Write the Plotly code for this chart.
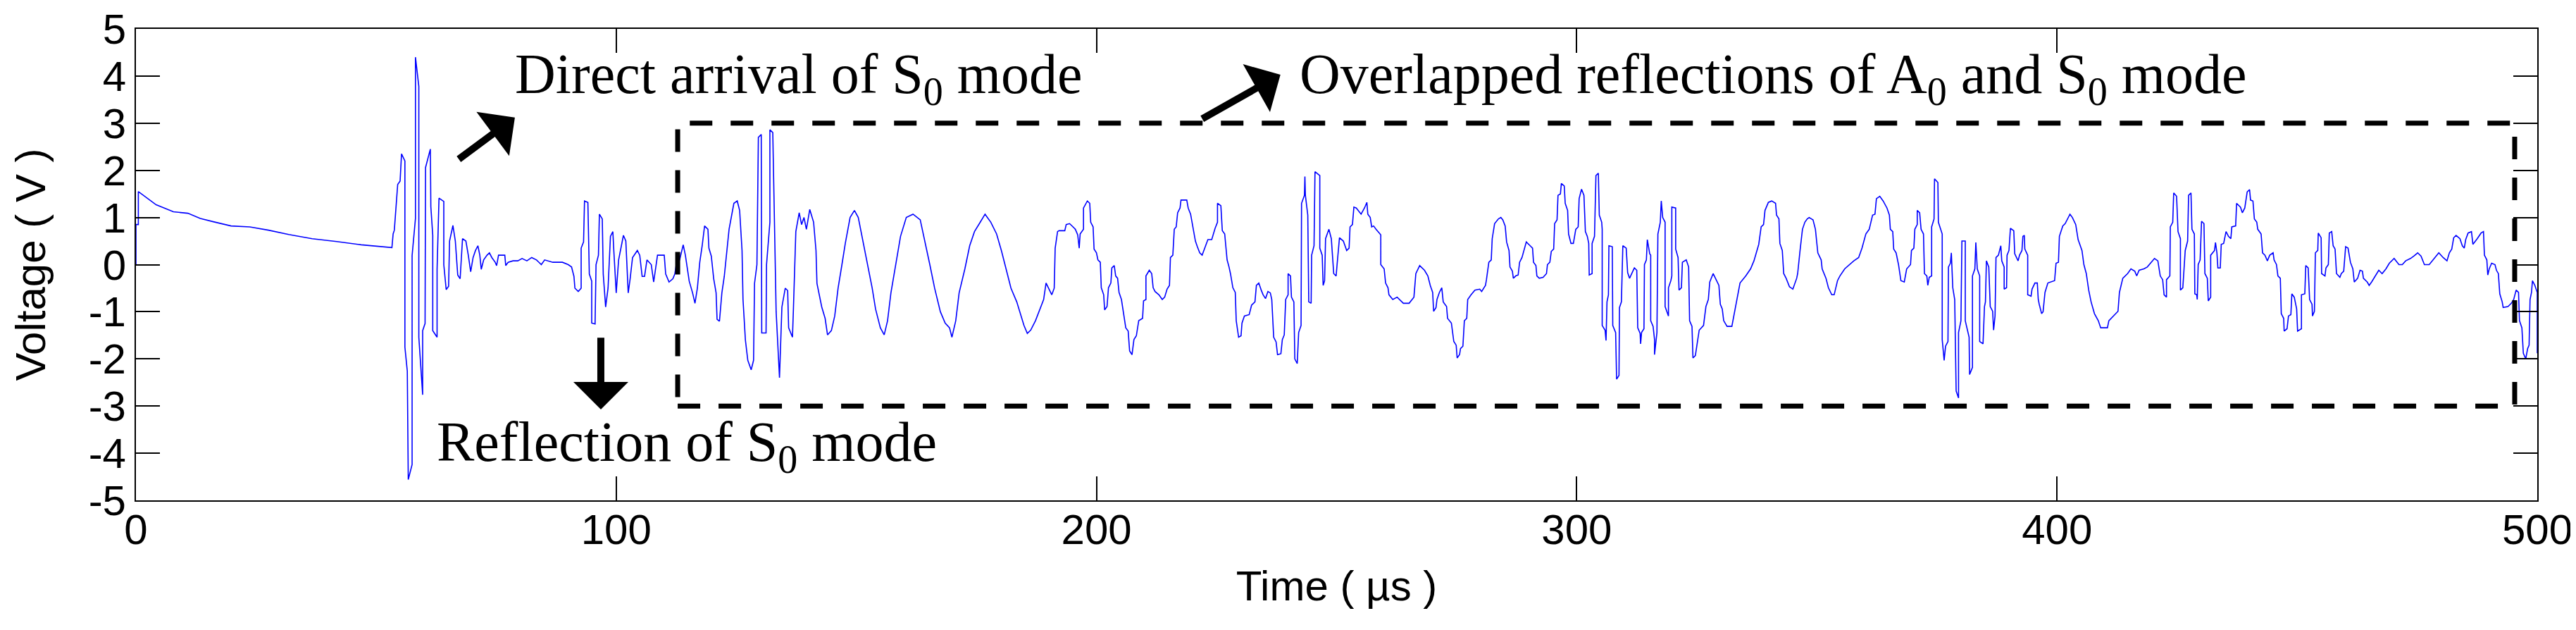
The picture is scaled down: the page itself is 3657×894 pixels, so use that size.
import plotly.graph_objects as go

# ---------------- data (time in microseconds, voltage in volts) ----------------
# 0-53 us : initial offset decaying
t_decay = [0, 0, 0.5, 0.5, 4.2, 7.8, 10.8, 13.4, 16.1, 19.8, 23.7, 27.6, 31.8, 36.7, 41.8, 46.9, 53.3]
v_decay = [0.0, 0.85, 0.85, 1.55, 1.27, 1.12, 1.09, 0.98, 0.91, 0.82, 0.80, 0.73, 0.64, 0.55, 0.49, 0.42, 0.36]

# 53-69 us : direct arrival of S0 mode
t_direct = [53.55, 53.8, 54.5, 55.0, 55.3, 56.0, 56.0, 56.5, 56.7, 57.5, 57.5, 58.2, 58.2, 58.9, 58.9, 59.7,
            59.7, 60.2, 60.3, 61.3, 61.4, 61.8, 61.8, 62.7, 62.7, 63.1, 64.1, 64.1, 64.6, 65.1, 65.3, 66.0,
            66.5, 67.0, 67.5, 68.0]
v_direct = [0.65, 0.73, 1.7, 1.77, 2.35, 2.2, -1.75, -2.26, -4.56, -4.24, 0.19, 0.98, 4.4, 3.78, -1.54, -2.76,
            -1.4, -1.25, 2.06, 2.45, 1.23, 0.62, -1.4, -1.54, -0.1, 1.41, 1.34, 0.0, -0.53, -0.46, 0.5, 0.83,
            0.5, -0.22, -0.3, 0.55]

# 68-93 us : tail of the direct arrival
t_tail = [68.7, 69.2, 69.7, 70.2, 70.7, 71.2, 71.6, 71.9, 72.4, 73.1, 73.6, 74.1, 74.8, 75.1, 75.5, 76.8,
          77.0, 77.5, 78.5, 79.5, 80.4, 81.4, 82.4, 83.4, 84.4, 85.1, 85.8, 86.8, 88.8, 90.0, 90.7, 91.2,
          91.4, 92.1, 92.7]
v_tail = [0.5, 0.2, -0.15, 0.15, 0.3, 0.4, 0.2, -0.1, 0.1, 0.2, 0.25, 0.15, 0.05, -0.02, 0.2, 0.2,
          -0.02, 0.05, 0.08, 0.08, 0.13, 0.08, 0.15, 0.1, 0.0, 0.1, 0.08, 0.05, 0.05, 0.0, -0.05, -0.25,
          -0.5, -0.57, -0.5]

# 93-129 us : reflection of S0 mode
t_reflect = [92.7, 93.2, 93.4, 94.1, 94.4, 94.9, 94.9, 95.6, 95.8, 96.3, 96.5, 97.1, 97.3, 97.8, 98.3, 98.8,
             99.3, 99.5, 100.0, 100.5, 101.5, 102.0, 102.5, 102.9, 103.4, 104.4, 104.9, 105.4, 105.9, 106.4,
             107.3, 107.8, 108.6, 110.0, 110.3, 111.0, 111.8, 112.2, 112.5, 113.2, 113.95, 114.4, 115.2,
             115.9, 116.4, 116.9, 117.4, 117.9, 118.4, 119.1, 119.3, 119.8, 120.3, 120.8, 121.0, 121.5,
             122.0, 122.5, 123.0, 123.5, 124.5, 125.2, 125.7, 126.2, 126.4, 126.9, 127.4, 128.1, 128.6,
             128.8, 129.3]
v_reflect = [0.35, 0.48, 1.35, 1.32, -0.2, -0.35, -1.24, -1.26, 0.0, 0.2, 1.07, 0.97, -0.2, -0.9, -0.5, 0.6,
             0.7, 0.3, -0.6, 0.1, 0.62, 0.5, -0.6, -0.3, 0.15, 0.3, 0.2, -0.25, -0.25, 0.1,
             0.0, -0.37, 0.2, 0.2, -0.2, -0.37, -0.3, -0.2, 0.0, 0.1, 0.42, 0.2, -0.35,
             -0.6, -0.82, -0.5, 0.05, 0.4, 0.82, 0.75, 0.35, 0.18, -0.3, -0.6, -1.16, -1.2,
             -0.6, -0.25, 0.22, 0.75, 1.3, 1.35, 1.15, 0.3, -0.74, -1.6, -2.03, -2.23, -2.03,
             -0.4, 0.0]

# 129-192 us : overlapped reflections, part 1
t_over1 = [129.6, 130.2, 130.3, 131.2, 131.3, 132.0, 132.0, 132.6, 133.3, 134.0, 134.5, 135.2, 135.7, 135.9,
           136.7, 136.9, 137.4, 138.1, 138.6, 139.1, 139.6, 140.3, 141.1, 141.6, 141.8, 142.8, 143.5, 144.0,
           144.8, 145.5, 146.2, 147.0, 147.7, 148.7, 149.6, 150.4, 151.3, 152.3, 153.3, 154.0, 155.0, 155.8,
           156.5, 157.2, 158.2, 159.2, 160.4, 161.8, 163.3, 164.3, 165.3, 166.3, 167.5, 168.5, 169.4, 169.9,
           170.7, 171.4, 172.6, 173.6, 174.6, 175.8, 176.8, 178.0, 179.2, 180.2, 181.2, 182.2, 183.4, 184.1,
           184.9, 185.6, 186.3, 187.3, 188.3, 189.0, 189.5, 190.0, 190.7, 191.2, 191.4, 191.9]
v_over1 = [2.7, 2.76, -1.45, -1.45, 0.0, 0.9, 2.86, 2.8, -1.0, -2.4, -0.9, -0.5, -0.55, -1.34,
           -1.54, -0.94, 0.7, 1.1, 0.85, 1.0, 0.75, 1.17, 0.9, 0.3, -0.4, -0.9, -1.14, -1.49,
           -1.4, -1.09, -0.5, 0.0, 0.45, 1.0, 1.15, 1.0, 0.55, 0.05, -0.5, -0.94, -1.34, -1.49,
           -1.19, -0.6, 0.0, 0.6, 1.0, 1.07, 0.95, 0.5, 0.0, -0.5, -1.0, -1.24, -1.34, -1.54,
           -1.19, -0.6, -0.09, 0.4, 0.7, 0.9, 1.07, 0.9, 0.65, 0.3, -0.09, -0.5, -0.79, -1.04,
           -1.29, -1.46, -1.39, -1.19, -0.94, -0.74, -0.39, -0.5, -0.64, -0.5, 0.35, 0.7]

# 192-254 us : overlapped reflections, part 2
t_over2 = [192.2, 193.4, 193.7, 194.4, 195.6, 196.1, 196.4, 196.6, 197.3, 197.3, 198.1, 198.6, 198.8, 199.3,
           199.5, 200.0, 200.3, 200.8, 201.0, 201.5, 201.7, 202.2, 202.5, 203.0, 203.2, 203.7, 204.0, 204.4,
           204.7, 205.2, 205.6, 206.1, 206.6, 206.9, 207.4, 207.8, 208.3, 208.8, 209.6, 209.8, 210.3, 210.3,
           211.0, 211.5, 211.8, 212.2, 213.0, 213.7, 214.2, 214.7, 215.2, 215.4, 215.9, 216.2, 216.6, 216.9,
           217.4, 217.6, 218.8, 219.1, 219.6, 220.1, 220.6, 221.0, 221.5, 222.0, 222.5, 223.2, 224.0, 224.7,
           225.2, 225.2, 225.9, 226.2, 226.7, 227.2, 227.6, 227.9, 228.4, 228.9, 229.1, 229.6, 230.1, 230.3,
           230.8, 231.8, 232.3, 233.0, 233.3, 233.8, 234.3, 234.7, 235.2, 235.7, 236.2, 236.5, 236.9, 237.4,
           237.7, 238.4, 238.7, 239.1, 239.4, 239.9, 239.9, 240.4, 240.6, 241.1, 241.3, 241.8, 242.1, 242.6,
           242.7, 243.3, 243.4, 243.5, 244.0, 244.2, 244.7, 244.8, 245.3, 245.5, 246.5, 246.5, 247.0, 247.2,
           247.5, 247.7, 248.4, 248.9, 249.4, 249.9, 250.1, 250.6, 251.4, 252.1, 252.6, 252.8, 253.3, 253.6]
v_over2 = [0.72, 0.72, 0.85, 0.87, 0.75, 0.63, 0.35, 0.65, 0.75, 1.2, 1.35, 1.3, 0.9, 0.8,
           0.33, 0.25, 0.1, 0.05, -0.49, -0.64, -0.96, -0.89, -0.49, -0.39, -0.07, -0.02, -0.24, -0.29,
           -0.59, -0.74, -1.04, -1.34, -1.41, -1.83, -1.91, -1.59, -1.51, -1.19, -1.14, -0.77, -0.74, -0.24,
           -0.12, -0.19, -0.49, -0.57, -0.64, -0.74, -0.69, -0.52, -0.44, 0.15, 0.2, 0.75, 0.8, 1.1,
           1.2, 1.37, 1.37, 1.2, 1.07, 0.77, 0.5, 0.38, 0.25, 0.2, 0.35, 0.53, 0.53, 0.77,
           0.9, 1.3, 1.25, 0.72, 0.65, 0.1, -0.05, -0.19, -0.49, -0.59, -1.19, -1.54, -1.51, -1.24,
           -1.09, -1.06, -0.86, -0.79, -0.44, -0.39, -0.54, -0.64, -0.72, -0.57, -0.6, -0.74, -1.54, -1.64,
           -1.91, -1.89, -1.59, -1.49, -0.74, -0.64, -0.19, -0.24, -0.69, -0.79, -2.0, -2.1, -1.44, -1.29,
           1.3, 1.47, 1.87, 1.47, 1.05, -0.79, -0.82, 0.2, 0.4, 1.97, 1.89, 0.35, 0.2, -0.44,
           -0.34, 0.55, 0.75, 0.55, -0.19, -0.24, 0.0, 0.57, 0.5, 0.3, 0.35, 0.8, 0.85, 1.22]

# 254-315 us : overlapped reflections, part 3
t_over3 = [254.1, 255.1, 255.8, 256.3, 256.5, 257.0, 257.3, 257.7, 258.2, 259.2, 259.2, 259.9, 260.2, 260.7,
           260.9, 261.7, 262.6, 263.1, 263.9, 265.1, 266.1, 266.5, 267.3, 268.3, 269.0, 269.5, 270.0, 270.2,
           270.7, 270.9, 271.4, 271.9, 272.2, 272.9, 273.1, 273.9, 274.4, 274.9, 275.1, 275.6, 275.8, 276.3,
           276.6, 277.1, 277.3, 278.0, 278.8, 279.8, 280.2, 281.0, 281.2, 281.7, 282.2, 282.4, 282.9, 283.7,
           284.2, 284.6, 285.1, 285.4, 285.9, 286.1, 286.6, 286.8, 287.3, 287.8, 288.1, 288.6, 289.0, 289.5,
           290.3, 290.8, 291.0, 291.5, 291.7, 292.2, 293.0, 293.7, 293.9, 294.4, 294.7, 295.2, 295.4, 295.9,
           296.1, 296.6, 296.8, 297.4, 297.6, 298.1, 298.3, 298.8, 299.3, 299.8, 300.3, 300.5, 301.0, 301.5,
           301.8, 302.2, 302.5, 302.6, 303.2, 303.2, 303.7, 304.0, 304.5, 304.7, 305.2, 305.3, 305.3, 305.9,
           306.1, 306.3, 306.6, 306.7, 307.4, 307.5, 308.1, 308.3, 308.8, 308.9, 309.3, 309.6, 310.3, 310.6,
           311.0, 311.5, 312.0, 312.5, 312.7, 313.2, 313.3, 313.5, 314.0, 314.1, 314.5, 314.7, 315.2]
v_over3 = [1.2, 1.07, 1.2, 1.32, 1.07, 1.0, 0.8, 0.82, 0.75, 0.63, 0.0, -0.09, -0.39, -0.49,
           -0.64, -0.74, -0.69, -0.74, -0.82, -0.82, -0.69, -0.19, -0.02, -0.12, -0.24, -0.44, -0.59, -0.99,
           -0.91, -0.74, -0.59, -0.49, -0.79, -0.89, -1.14, -1.24, -1.63, -1.71, -1.98, -1.91, -1.78, -1.73,
           -1.19, -1.14, -0.74, -0.64, -0.54, -0.52, -0.57, -0.44, -0.32, 0.05, 0.1, 0.55, 0.87, 0.97,
           1.0, 0.95, 0.82, 0.48, 0.3, -0.05, -0.14, -0.29, -0.24, -0.22, 0.05, 0.15, 0.3, 0.48,
           0.4, 0.35, 0.05, -0.02, -0.24, -0.29, -0.27, -0.19, 0.0, 0.05, 0.28, 0.33, 0.87, 0.95,
           1.47, 1.5, 1.72, 1.67, 1.3, 1.15, 0.65, 0.45, 0.45, 0.75, 0.8, 1.4, 1.6, 1.47,
           0.7, 0.6, 0.45, -0.22, -0.19, 0.45, 0.6, 1.89, 1.94, 1.05, 0.9, 0.75, -1.29, -1.39,
           -1.61, -0.79, -0.64, 0.4, 0.38, -1.29, -1.44, -2.43, -2.35, -0.91, -0.79, 0.4, 0.35, -0.17,
           -0.29, -0.19, -0.07, -0.12, -1.34, -1.46, -1.68, -1.44, -1.36, 0.0, 0.1, 0.53, 0.23]

# 315-377 us : overlapped reflections, part 4
t_over4 = [315.4, 315.4, 315.9, 316.2, 316.2, 316.7, 316.9, 317.4, 317.6, 317.9, 318.4, 318.4, 319.1, 319.1,
           319.6, 319.8, 319.8, 320.6, 320.6, 321.1, 321.3, 321.8, 322.0, 322.8, 323.3, 323.5, 324.0, 324.2,
           324.7, 325.0, 325.5, 326.4, 326.9, 327.4, 327.7, 328.4, 329.1, 329.6, 329.9, 330.3, 330.6, 331.3,
           332.3, 332.8, 333.3, 334.0, 335.2, 336.2, 336.9, 337.4, 337.9, 338.4, 338.9, 339.2, 339.9, 340.6,
           341.4, 341.6, 342.1, 342.3, 342.8, 343.1, 343.6, 344.3, 345.0, 345.8, 346.0, 346.5, 347.0, 347.5,
           348.0, 348.4, 349.2, 349.7, 350.2, 350.9, 351.1, 351.9, 352.4, 353.1, 353.6, 354.3, 354.8, 355.8,
           356.8, 357.7, 358.7, 359.4, 360.2, 360.9, 361.6, 362.1, 362.4, 363.1, 363.8, 364.6, 365.1, 365.3,
           365.8, 366.0, 366.5, 367.0, 367.5, 368.2, 368.7, 369.5, 369.7, 370.2, 370.4, 370.9, 370.9, 371.4,
           371.7, 372.2, 372.4, 372.9, 373.1, 373.4, 373.9, 373.9, 374.4, 374.5, 375.2, 375.3, 376.1, 376.1,
           376.5, 376.8, 377.3]
v_over4 = [0.2, -1.19, -1.31, -1.59, -1.91, -1.44, 0.65, 0.9, 1.35, 1.0, 0.9, -0.89, -1.09, -0.49,
           -0.34, -0.24, 1.22, 1.2, 0.33, 0.15, -0.54, -0.49, 0.05, 0.1, -0.05, -1.19, -1.31, -1.98,
           -1.93, -1.73, -1.39, -1.29, -0.89, -0.74, -0.37, -0.19, -0.34, -0.44, -0.84, -0.94, -1.19, -1.31,
           -1.31, -1.04, -0.74, -0.39, -0.24, -0.09, 0.08, 0.25, 0.43, 0.8, 0.85, 1.15, 1.32, 1.35,
           1.3, 1.05, 0.97, 0.45, 0.3, -0.19, -0.29, -0.47, -0.52, -0.29, -0.19, 0.3, 0.75, 0.9,
           0.97, 1.0, 0.95, 0.75, 0.25, 0.1, -0.09, -0.29, -0.49, -0.64, -0.64, -0.34, -0.24, -0.09,
           0.0, 0.08, 0.15, 0.35, 0.65, 0.75, 1.05, 1.07, 1.4, 1.45, 1.35, 1.2, 1.05, 0.75,
           0.7, 0.33, 0.25, 0.0, -0.34, -0.37, -0.09, 0.0, 0.3, 0.35, 0.75, 0.85, 1.15, 1.1,
           0.75, 0.65, -0.19, -0.24, -0.44, -0.27, -0.24, 0.8, 0.97, 1.82, 1.74, 0.9, 0.65, -1.59,
           -2.03, -1.73, -1.63]

# 377-439 us : overlapped reflections, part 5
t_over5 = [377.4, 377.8, 378.0, 378.3, 378.7, 379.0, 379.5, 379.5, 380.0, 380.2, 380.9, 380.9, 381.4, 381.7,
           381.8, 382.4, 382.4, 382.9, 383.1, 383.4, 383.9, 383.9, 384.6, 384.9, 385.1, 385.3, 385.8, 386.1,
           386.6, 386.8, 387.1, 387.3, 387.8, 388.3, 388.5, 389.0, 389.0, 389.5, 389.6, 390.0, 390.3, 391.0,
           391.2, 391.9, 392.2, 392.7, 392.9, 393.2, 393.3, 393.9, 393.9, 394.6, 394.8, 395.4, 395.9, 396.1,
           396.3, 396.8, 397.1, 397.5, 398.1, 398.8, 399.5, 399.8, 400.3, 400.5, 401.2, 401.7, 402.2, 402.7,
           403.2, 403.9, 404.4, 405.2, 405.6, 406.1, 406.6, 407.1, 407.8, 408.6, 409.1, 410.5, 410.8, 411.8,
           412.7, 413.0, 413.7, 414.7, 415.4, 416.2, 416.6, 417.1, 418.1, 418.8, 419.6, 420.3, 421.0, 421.5,
           422.0, 422.3, 422.8, 422.8, 423.5, 423.6, 424.1, 424.3, 424.9, 425.2, 425.7, 425.7, 426.2, 426.7,
           427.2, 427.4, 427.9, 428.1, 428.6, 428.7, 429.1, 429.2, 429.4, 429.8, 430.1, 430.6, 430.8, 431.3,
           431.5, 432.0, 432.0, 432.8, 433.0, 433.3, 433.5, 434.0, 434.2, 434.7, 435.2, 435.7, 436.2, 436.4,
           437.2, 437.4, 438.2, 438.6, 439.1]
v_over5 = [-0.05, 0.03, 0.25, -0.49, -0.74, -2.68, -2.83, -1.44, -1.19, 0.5, 0.5, -1.19, -1.39, -1.54,
           -2.33, -2.18, -0.24, -0.09, 0.47, -0.09, -0.24, -1.63, -1.68, -0.89, -0.79, 0.08, -0.05, -0.89,
           -0.99, -1.39, -1.09, 0.15, 0.2, 0.4, 0.08, -0.05, -0.52, -0.49, 0.2, 0.3, 0.77, 0.72,
           0.23, 0.08, 0.2, 0.3, 0.6, 0.62, 0.33, 0.2, -0.64, -0.67, -0.52, -0.39, -0.39, -0.74,
           -0.84, -1.04, -1.0, -0.59, -0.39, -0.37, -0.34, 0.03, 0.05, 0.6, 0.82, 0.87, 0.97, 1.07,
           1.0, 0.85, 0.53, 0.3, 0.0, -0.19, -0.54, -0.79, -1.04, -1.19, -1.34, -1.34, -1.19, -1.09,
           -0.99, -0.59, -0.29, -0.19, -0.09, -0.14, -0.24, -0.12, -0.09, -0.05, 0.05, 0.13, 0.08, -0.24,
           -0.32, -0.64, -0.69, -0.32, -0.24, 0.8, 0.9, 1.52, 1.45, 0.7, 0.55, -0.54, -0.49, 0.3,
           0.5, 1.47, 1.52, 0.75, 0.65, -0.62, -0.64, -0.74, 0.0, 0.1, 0.92, 0.87, -0.19, -0.29,
           -0.77, -0.69, 0.2, 0.3, 0.47, 0.25, -0.07, -0.07, 0.43, 0.45, 0.7, 0.6, 0.55, 0.8,
           0.82, 1.3, 1.22, 1.1, 1.2]

# 439-500 us : overlapped reflections, part 6
t_over6 = [439.6, 440.1, 440.3, 440.8, 441.1, 441.6, 441.8, 442.5, 442.8, 443.3, 443.8, 444.3, 445.0, 445.2,
           445.7, 446.0, 446.5, 446.7, 447.2, 447.3, 447.9, 448.2, 448.7, 448.9, 449.4, 449.9, 450.1, 450.9,
           450.9, 451.6, 451.8, 452.3, 452.6, 453.1, 453.2, 453.6, 453.8, 454.3, 454.4, 455.0, 455.1, 455.8,
           456.0, 456.5, 456.7, 457.2, 457.5, 457.9, 458.2, 458.9, 459.2, 459.7, 460.1, 460.6, 461.1, 461.6,
           461.9, 462.6, 463.1, 463.6, 463.8, 464.6, 465.0, 465.5, 466.3, 467.0, 467.7, 468.5, 469.2, 470.2,
           471.2, 471.9, 472.6, 473.6, 474.3, 475.1, 475.8, 476.5, 477.5, 478.5, 479.5, 480.4, 481.2, 481.7,
           482.2, 482.6, 483.1, 483.9, 484.4, 484.8, 485.1, 485.6, 486.3, 486.6, 487.0, 487.5, 488.3, 488.8,
           489.0, 489.5, 489.7, 490.0, 490.5, 491.2, 491.5, 491.9, 492.2, 492.7, 492.9, 493.9, 494.6, 495.1,
           495.6, 496.1, 496.3, 496.8, 497.1, 497.6, 498.0, 498.3, 498.5, 498.8, 499.0, 499.5, 500.0, 500.0]
v_over6 = [1.54, 1.59, 1.37, 1.35, 0.97, 0.9, 0.75, 0.65, 0.25, 0.2, 0.08, 0.2, 0.25, 0.1,
           0.0, -0.24, -0.29, -1.04, -1.14, -1.41, -1.36, -1.09, -1.06, -0.62, -0.69, -0.94, -1.41, -1.36,
           -0.64, -0.62, -0.02, -0.07, -0.74, -0.84, -1.09, -0.99, 0.25, 0.3, 0.67, 0.57, -0.19, -0.24,
           -0.07, 0.0, 0.67, 0.7, 0.4, 0.33, -0.19, -0.27, -0.19, -0.14, 0.38, 0.35, 0.05, -0.09,
           -0.37, -0.29, -0.12, -0.14, -0.29, -0.37, -0.44, -0.37, -0.24, -0.12, -0.19, -0.09, 0.03, 0.13,
           0.0, 0.0, 0.08, 0.13, 0.18, 0.25, 0.18, 0.0, 0.0, 0.13, 0.25, 0.15, 0.08, 0.25,
           0.33, 0.57, 0.62, 0.55, 0.4, 0.35, 0.53, 0.67, 0.7, 0.43, 0.48, 0.55, 0.67, 0.7,
           0.2, 0.1, -0.22, -0.09, 0.03, 0.0, -0.12, -0.19, -0.62, -0.79, -0.91, -0.89, -0.82, -0.74,
           -0.54, -0.59, -1.19, -1.34, -1.88, -2.0, -1.78, -1.71, -0.74, -0.59, -0.34, -0.44, -0.59, -1.88]

x_ticks = [0, 100, 200, 300, 400, 500]
y_ticks = [-5, -4, -3, -2, -1, 0, 1, 2, 3, 4, 5]

# ---------------- assemble the signal ----------------
time_us = (t_decay + t_direct + t_tail + t_reflect + t_over1 + t_over2 +
           t_over3 + t_over4 + t_over5 + t_over6)
voltage = (v_decay + v_direct + v_tail + v_reflect + v_over1 + v_over2 +
           v_over3 + v_over4 + v_over5 + v_over6)

fig = go.Figure()
fig.add_trace(go.Scatter(x=time_us, y=voltage, mode="lines",
                         line=dict(color="#0000ff", width=1.6),
                         showlegend=False, hoverinfo="x+y"))

axis_font = dict(family="Liberation Sans, Arial, sans-serif", size=60, color="black")
common_axis = dict(showline=True, linecolor="black", linewidth=2, mirror="ticks",
                   ticks="inside", ticklen=34, tickwidth=2, tickcolor="black",
                   showgrid=False, zeroline=False, tickfont=axis_font,
                   ticklabeloverflow="allow", automargin=False)

fig.update_layout(
    width=3657, height=894,
    margin=dict(l=185, r=63, t=33, b=192, autoexpand=False),
    paper_bgcolor="white", plot_bgcolor="white",
    xaxis=dict(range=[0, 500], tickvals=x_ticks, ticktext=[str(v) for v in x_ticks],
               ticklabelstandoff=-12,
               title=dict(text="Time ( µs )", font=axis_font, standoff=26), **common_axis),
    yaxis=dict(range=[-5, 5], tickvals=y_ticks, ticktext=[str(v) for v in y_ticks],
               title=dict(text="Voltage ( V )", font=axis_font, standoff=42), **common_axis),
)

# dashed box around overlapped reflections
fig.add_shape(type="rect", xref="x", yref="y", x0=112.8, x1=495.3, y0=-3, y1=3,
              line=dict(color="black", width=7, dash="32px,26px"), fillcolor="rgba(0,0,0,0)")

serif = dict(family="Liberation Serif, Times New Roman, serif", size=80, color="black")
fig.add_annotation(x=78.6, y=3.96, xref="x", yref="y", text="Direct arrival of S<sub>0</sub> mode",
                   showarrow=False, xanchor="left", yanchor="middle", font=serif)
fig.add_annotation(x=62.4, y=-3.85, xref="x", yref="y", text="Reflection of S<sub>0</sub> mode",
                   showarrow=False, xanchor="left", yanchor="middle", font=serif)
fig.add_annotation(x=242.0, y=3.96, xref="x", yref="y",
                   text="Overlapped reflections of A<sub>0</sub> and S<sub>0</sub> mode",
                   showarrow=False, xanchor="left", yanchor="middle", font=serif)

arrow_style = dict(text="", showarrow=True, arrowhead=1, arrowsize=1.3, arrowwidth=10,
                   arrowcolor="black", xref="x", yref="y", axref="x", ayref="y")
fig.add_annotation(x=78.9, y=3.12, ax=67.0, ay=2.22, **arrow_style)
fig.add_annotation(x=96.8, y=-3.07, ax=96.8, ay=-1.53, **arrow_style)
fig.add_annotation(x=238.3, y=4.03, ax=221.8, ay=3.08, **arrow_style)

fig.write_html("out.html")
